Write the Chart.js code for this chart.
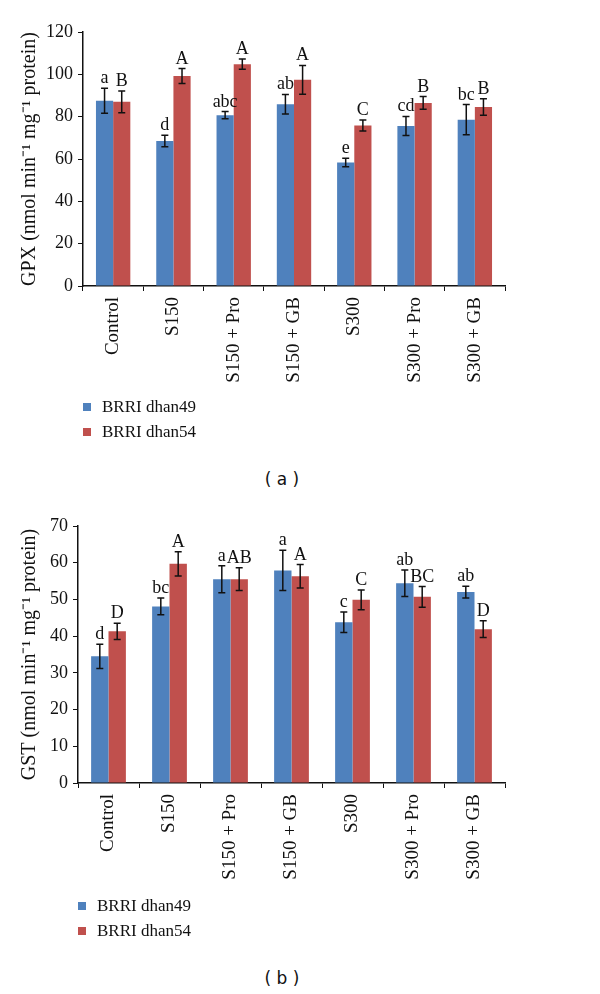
<!DOCTYPE html>
<html>
<head>
<meta charset="utf-8">
<script src="https://cdn.jsdelivr.net/npm/chart.js@4.4.1/dist/chart.umd.min.js"></script>
<style>
  body { margin: 0; background: #fff; }
  #wrap { position: relative; width: 600px; height: 994px; background: #fff; }
  canvas { position: absolute; left: 0; }
  .leg { position: absolute; font: 17px "Liberation Serif", serif; color: #111; line-height: 20px; }
  .leg span { display: inline-block; width: 8px; height: 8px; margin-right: 11px; vertical-align: 1px; }
  .cap { position: absolute; width: 600px; left: -18px; text-align: center; font: 17px "DejaVu Sans", sans-serif; color: #111; }
</style>
</head>
<body>
<div id="wrap">
  <canvas id="gpx" width="600" height="400" style="top:0"></canvas>
  <div class="leg" style="left:83px; top:397px"><span style="background:#4f81bd"></span>BRRI dhan49</div>
  <div class="leg" style="left:83px; top:422px"><span style="background:#c0504d"></span>BRRI dhan54</div>
  <div class="cap" style="top:469px">( a )</div>

  <canvas id="gst" width="600" height="400" style="top:500px"></canvas>
  <div class="leg" style="left:78px; top:896px"><span style="background:#4f81bd"></span>BRRI dhan49</div>
  <div class="leg" style="left:78px; top:921px"><span style="background:#c0504d"></span>BRRI dhan54</div>
  <div class="cap" style="top:968px">( b )</div>
</div>
<script>
// treatments
var categories = ['Control', 'S150', 'S150 + Pro', 'S150 + GB', 'S300', 'S300 + Pro', 'S300 + GB'];
var seriesNames = ['BRRI dhan49', 'BRRI dhan54'];

// (a) GPX
var gpx49 = [87.5, 68.5, 80.7, 85.9, 58.3, 75.6, 78.6];
var gpx54 = [87.0, 99.2, 104.8, 97.4, 75.8, 86.5, 84.6];
var gpx49Err = [5.9, 2.7, 1.7, 4.6, 2.0, 4.5, 7.1];
var gpx54Err = [5.1, 3.5, 2.4, 6.8, 2.6, 3.0, 3.9];
var gpx49Letters = ['a', 'd', 'abc', 'ab', 'e', 'cd', 'bc'];
var gpx54Letters = ['B', 'A', 'A', 'A', 'C', 'B', 'B'];

// (b) GST
var gst49 = [34.5, 48.1, 55.5, 57.9, 43.8, 54.4, 52.0];
var gst54 = [41.3, 59.7, 55.5, 56.3, 49.9, 50.7, 41.9];
var gst49Err = [3.3, 2.3, 3.7, 5.5, 2.8, 3.6, 1.6];
var gst54Err = [2.2, 3.3, 3.1, 3.2, 2.7, 2.8, 2.3];
var gst49Letters = ['d', 'bc', 'a', 'a', 'c', 'ab', 'ab'];
var gst54Letters = ['D', 'A', 'AB', 'A', 'C', 'BC', 'D'];

var blue = '#4f81bd';
var red = '#c0504d';
var serif = '"Liberation Serif", "Times New Roman", serif';

// error bars + significance letters
var errorBars = {
  id: 'errorBars',
  afterDatasetsDraw: function (chart) {
    var ctx = chart.ctx;
    var y = chart.scales.y;
    ctx.save();
    chart.data.datasets.forEach(function (ds, i) {
      var meta = chart.getDatasetMeta(i);
      meta.data.forEach(function (bar, j) {
        var v = ds.data[j], e = ds.errors[j];
        var top = y.getPixelForValue(v + e);
        var bot = y.getPixelForValue(v - e);
        ctx.strokeStyle = '#111';
        ctx.lineWidth = 1.5;
        ctx.beginPath();
        ctx.moveTo(bar.x, top); ctx.lineTo(bar.x, bot);
        ctx.moveTo(bar.x - 3.5, top); ctx.lineTo(bar.x + 3.5, top);
        ctx.moveTo(bar.x - 3.5, bot); ctx.lineTo(bar.x + 3.5, bot);
        ctx.stroke();
        ctx.fillStyle = '#111';
        ctx.font = '18px ' + serif;
        ctx.textAlign = 'center';
        ctx.textBaseline = 'alphabetic';
        ctx.fillText(ds.letters[j], bar.x, top - 5);
      });
    });
    ctx.restore();
  }
};

function makeChart(id, d49, d54, e49, e54, l49, l54, yMax, title, pad, yWidth, xHeight) {
  return new Chart(document.getElementById(id), {
    type: 'bar',
    data: {
      labels: categories,
      datasets: [
        { label: seriesNames[0], data: d49, errors: e49, letters: l49, backgroundColor: blue,
          categoryPercentage: 0.57, barPercentage: 1 },
        { label: seriesNames[1], data: d54, errors: e54, letters: l54, backgroundColor: red,
          categoryPercentage: 0.57, barPercentage: 1 }
      ]
    },
    options: {
      responsive: false,
      animation: false,
      layout: { padding: { top: pad, right: 95, left: 0, bottom: 0 } },
      plugins: { legend: { display: false }, tooltip: { enabled: false } },
      scales: {
        x: {
          grid: { drawOnChartArea: false, drawTicks: true, tickLength: 5, color: '#111', offset: true },
          border: { color: '#111', width: 1.5 },
          ticks: { color: '#111', font: { family: serif, size: 19 }, minRotation: 90, maxRotation: 90, padding: 6, autoSkip: false },
          afterFit: function (s) { s.height = xHeight; }
        },
        y: {
          min: 0, max: yMax,
          grid: { drawOnChartArea: false, drawTicks: true, tickLength: 5, color: '#111' },
          border: { color: '#111', width: 1.5 },
          ticks: { stepSize: yMax > 100 ? 20 : 10, color: '#111', font: { family: serif, size: 18 }, padding: 5 },
          title: { display: true, text: title, color: '#111', font: { family: serif, size: 20 }, padding: { top: 18, bottom: 0 } },
          afterFit: function (s) { s.width = yWidth; }
        }
      }
    },
    plugins: [errorBars]
  });
}

makeChart('gpx', gpx49, gpx54, gpx49Err, gpx54Err, gpx49Letters, gpx54Letters, 120,
  'GPX (nmol min\u207B\u00B9 mg\u207B\u00B9 protein)', 32, 83, 114);
makeChart('gst', gst49, gst54, gst49Err, gst54Err, gst49Letters, gst54Letters, 70,
  'GST (nmol min\u207B\u00B9 mg\u207B\u00B9 protein)', 26, 78, 117);
</script>
</body>
</html>
